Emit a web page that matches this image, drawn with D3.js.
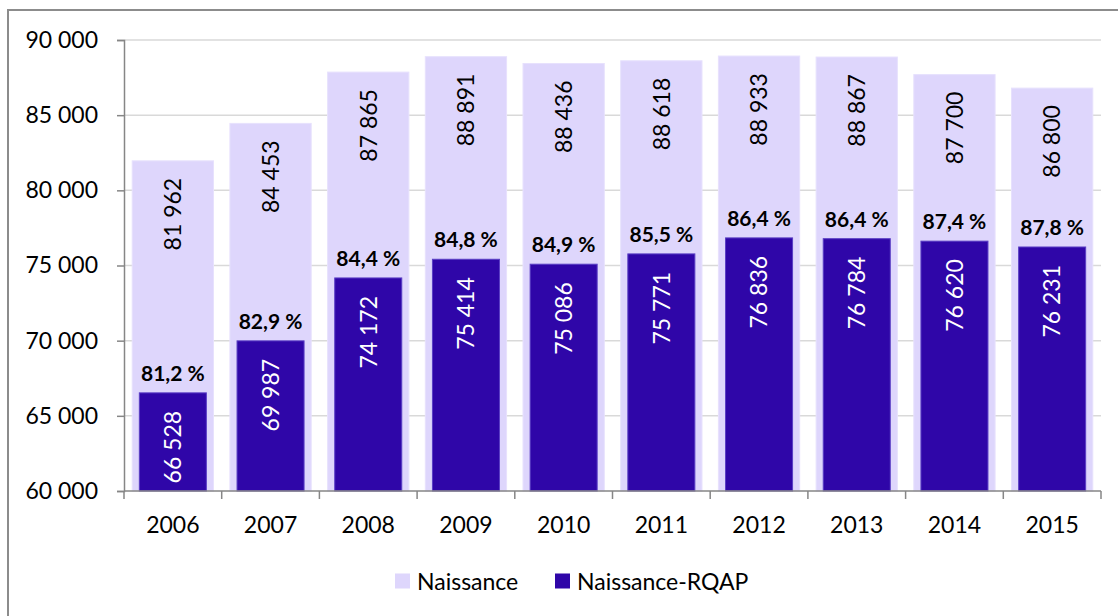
<!DOCTYPE html>
<html>
<head>
<meta charset="utf-8">
<script src="https://cdn.jsdelivr.net/npm/d3@7"></script>
<style>
  html, body { margin: 0; padding: 0; background: #fff; }
  svg { display: block; font-family: Lato, "Open Sans", sans-serif; }
</style>
</head>
<body>
<svg id="chart" width="1118" height="616"></svg>
<script>
const years = ["2006","2007","2008","2009","2010","2011","2012","2013","2014","2015"];
const naissance = [81962, 84453, 87865, 88891, 88436, 88618, 88933, 88867, 87700, 86800];
const naissanceRQAP = [66528, 69987, 74172, 75414, 75086, 75771, 76836, 76784, 76620, 76231];
const pctLabels = ["81,2 %","82,9 %","84,4 %","84,8 %","84,9 %","85,5 %","86,4 %","86,4 %","87,4 %","87,8 %"];
const yTicks = [60000, 65000, 70000, 75000, 80000, 85000, 90000];
const seriesNames = ["Naissance", "Naissance-RQAP"];

const colLight = "#ded6fc", colLightEdge = "#e7e1fd";
const colDark = "#2f06a8", colDarkEdge = "#5a3ec4";

const svg = d3.select("#chart");
const locale = d3.formatLocale({decimal: ",", thousands: " ", grouping: [3], currency: ["", ""]});
const fmt = locale.format(",d");

// outer frame
svg.append("rect").attr("x", 8).attr("y", 10).attr("width", 1130).attr("height", 630)
  .attr("fill", "none").attr("stroke", "#8c8c8c").attr("stroke-width", 2);

const x = d3.scaleBand().domain(years).range([124, 1101]).padding(0);
const y = d3.scaleLinear().domain([60000, 90000]).range([491, 40]);

// gridlines
svg.append("g").selectAll("line").data(yTicks.filter(d => d > 60000)).join("line")
  .attr("x1", 124).attr("x2", 1101)
  .attr("y1", d => y(d)).attr("y2", d => y(d))
  .attr("stroke", "#d9d9d9").attr("stroke-width", 1.5);

const bw = x.bandwidth();
const lightW = bw * 0.832, darkW = bw * 0.686;

// light bars
svg.append("g").selectAll("rect").data(naissance).join("rect")
  .attr("x", (d, i) => x(years[i]) + (bw - lightW) / 2)
  .attr("y", d => y(d))
  .attr("width", lightW)
  .attr("height", d => y(60000) - y(d))
  .attr("fill", colLight).attr("stroke", colLightEdge).attr("stroke-width", 1);

// dark bars
svg.append("g").selectAll("rect").data(naissanceRQAP).join("rect")
  .attr("x", (d, i) => x(years[i]) + (bw - darkW) / 2)
  .attr("y", d => y(d))
  .attr("width", darkW)
  .attr("height", d => y(60000) - y(d))
  .attr("fill", colDark).attr("stroke", colDarkEdge).attr("stroke-width", 1);

// axes
const yAxis = d3.axisLeft(y).tickValues(yTicks).tickSize(7).tickPadding(19).tickFormat(fmt);
const gy = svg.append("g").attr("transform", "translate(124,0)").call(yAxis);
gy.select(".domain").attr("stroke", "#868686").attr("stroke-width", 1.5);
gy.selectAll(".tick line").attr("stroke", "#868686").attr("stroke-width", 1.5);
gy.selectAll(".tick text").attr("font-size", 23).attr("fill", "#000").attr("font-family", "Lato");

const gx = svg.append("g").attr("transform", "translate(0,491)");
gx.append("line").attr("x1", 124).attr("x2", 1101).attr("y1", 0).attr("y2", 0)
  .attr("stroke", "#868686").attr("stroke-width", 1.5);
const bounds = years.map(d => x(d)).concat([x(years[years.length - 1]) + bw]);
gx.selectAll("line.tk").data(bounds).join("line").attr("class", "tk")
  .attr("x1", d => d).attr("x2", d => d).attr("y1", 0).attr("y2", 8)
  .attr("stroke", "#868686").attr("stroke-width", 1.5);
gx.selectAll("text").data(years).join("text")
  .attr("x", d => x(d) + bw / 2).attr("y", 42)
  .attr("text-anchor", "middle").attr("font-size", 23).attr("fill", "#000")
  .text(d => d);

// light labels (rotated, inside end)
svg.append("g").selectAll("text").data(naissance).join("text")
  .attr("transform", (d, i) => `translate(${x(years[i]) + bw / 2},${y(d) + 17}) rotate(-90)`)
  .attr("text-anchor", "end").attr("dy", "0.36em")
  .attr("font-size", 23).attr("fill", "#000")
  .text(d => fmt(d));

// dark labels (rotated, white)
svg.append("g").selectAll("text").data(naissanceRQAP).join("text")
  .attr("transform", (d, i) => `translate(${x(years[i]) + bw / 2},${y(d) + 18}) rotate(-90)`)
  .attr("text-anchor", "end").attr("dy", "0.36em")
  .attr("font-size", 23).attr("fill", "#fff")
  .text(d => fmt(d));

// percent labels
svg.append("g").selectAll("text").data(pctLabels).join("text")
  .attr("x", (d, i) => x(years[i]) + bw / 2)
  .attr("y", (d, i) => y(naissanceRQAP[i]) - 12)
  .attr("text-anchor", "middle").attr("font-size", 21).attr("font-weight", "bold").attr("fill", "#000")
  .text(d => d);

// legend
const legend = svg.append("g");
const legX = [395, 555];
const legCols = [colLight, colDark];
seriesNames.forEach((name, i) => {
  legend.append("rect").attr("x", legX[i]).attr("y", 573.5).attr("width", 15).attr("height", 15)
    .attr("fill", legCols[i]);
  legend.append("text").attr("x", legX[i] + 22).attr("y", 590)
    .attr("font-size", 23).attr("fill", "#000").text(name);
});
</script>
</body>
</html>
